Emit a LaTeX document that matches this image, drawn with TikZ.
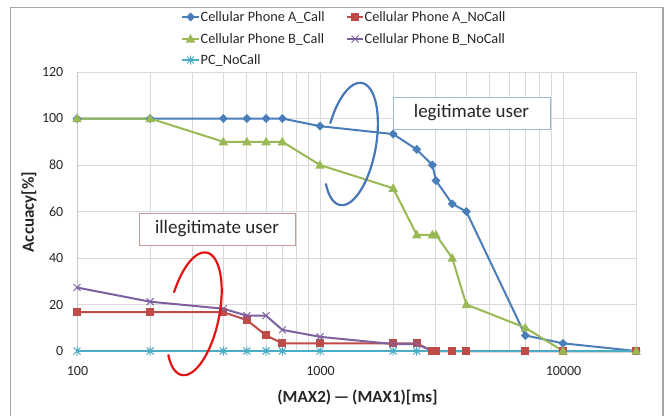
\documentclass[tikz,border=0pt]{standalone}
\usepackage{fontspec}
\setmainfont{Carlito}
\definecolor{sA}{HTML}{4A7EBB}
\definecolor{sR}{HTML}{BE4B48}
\definecolor{sG}{HTML}{98B954}
\definecolor{sP}{HTML}{7D60A0}
\definecolor{sC}{HTML}{4BACC6}
\definecolor{gridc}{HTML}{D9D9D9}
\definecolor{axisc}{HTML}{C8C8C8}
\definecolor{framec}{HTML}{A6A6A6}
\definecolor{txt}{HTML}{262626}
\definecolor{ellB}{HTML}{4777B8}
\definecolor{ellR}{HTML}{E01414}
\definecolor{boxB}{HTML}{9DB9D5}
\definecolor{boxR}{HTML}{C99A9A}
\tikzset{
  serline/.style={line width=2pt, line join=round},
  ticklab/.style={font=\fontsize{14}{16}\selectfont, text=txt, inner sep=0pt},
  legtext/.style={font=\fontsize{14.3}{16}\selectfont, text=txt, inner sep=0pt, anchor=west},
  annobox/.style={fill=white, line width=0.9pt, minimum height=32pt, inner sep=0pt, font=\fontsize{19}{22}\selectfont, text=txt},
  axtitle/.style={font=\bfseries\fontsize{17}{20}\selectfont, text=txt, inner sep=0pt},
  ellipsearc/.style={line width=2.2pt, line cap=round},
}
\newcommand\mkA[1]{\fill[sA] #1 +(-4.5pt,0) -- +(0,4.5pt) -- +(4.5pt,0) -- +(0,-4.5pt) -- cycle;}
\newcommand\mkR[1]{\fill[sR] #1 +(-4pt,-4pt) rectangle +(4pt,4pt);}
\newcommand\mkG[1]{\fill[sG] #1 +(0,5pt) -- +(-4.7pt,-3.5pt) -- +(4.7pt,-3.5pt) -- cycle;}
\newcommand\mkP[1]{\draw[sP, line width=1pt] #1 +(-3.5pt,-3.5pt) -- +(3.5pt,3.5pt) #1 +(-3.5pt,3.5pt) -- +(3.5pt,-3.5pt);}
\newcommand\mkC[1]{\draw[sC, line width=1pt] #1 +(-3.5pt,-3.5pt) -- +(3.5pt,3.5pt) #1 +(-3.5pt,3.5pt) -- +(3.5pt,-3.5pt) #1 +(0,-4.5pt) -- +(0,4.5pt);}
\begin{document}
\begin{tikzpicture}[x=1pt,y=-1pt]
\useasboundingbox (0,0) rectangle (668,415);
% outer chart frame
\draw[framec, line width=1.2pt] (10.5,430) -- (10.5,7.5) -- (663,7.5) -- (663,430);

% plot area in data coordinates: x in decades above 100, y in percent
\begin{scope}[shift={(77,351)}, x=243pt, y=2.325pt]
  \foreach \v in {20,40,...,120} \draw[gridc, line width=0.9pt] (0,\v) -- (2.30103,\v);
  \foreach \m in {2,...,9} {
    \draw[gridc, line width=0.9pt] ({log10(\m)},0) -- ({log10(\m)},120);
    \draw[gridc, line width=0.9pt] ({1+log10(\m)},0) -- ({1+log10(\m)},120);
  }
  \foreach \d in {1,2,2.30103} \draw[gridc, line width=0.9pt] (\d,0) -- (\d,120);
  \draw[axisc, line width=0.9pt] (0,120) -- (0,0) -- (2.30103,0);

  % series lines
  \draw[sA, serline] (0,100) -- (0.30103,100) -- (0.60206,100) -- (0.69897,100) -- (0.77815,100) -- (0.84510,100)
     -- (1,96.7) -- (1.30103,93.3) -- (1.39794,86.7) -- (1.46240,80) -- (1.47712,73.3) -- (1.54407,63.3)
     -- (1.60206,60) -- (1.84510,6.7) -- (2,3.3) -- (2.30103,0);
  \draw[sR, serline] (0,16.7) -- (0.30103,16.7) -- (0.60206,16.7) -- (0.69897,13.3) -- (0.77815,6.7) -- (0.84510,3.3)
     -- (1,3.3) -- (1.30103,3.3) -- (1.39794,3.3) -- (1.46240,0) -- (1.47712,0) -- (1.54407,0)
     -- (1.60206,0) -- (1.84510,0) -- (2,0) -- (2.30103,0);
  \draw[sG, serline] (0,100) -- (0.30103,100) -- (0.60206,90) -- (0.69897,90) -- (0.77815,90) -- (0.84510,90)
     -- (1,80) -- (1.30103,70) -- (1.39794,50) -- (1.46240,50) -- (1.47712,50) -- (1.54407,40)
     -- (1.60206,20) -- (1.84510,10) -- (2,0) -- (2.30103,0);
  \draw[sP, serline] (0,27.3) -- (0.30103,21.2) -- (0.60206,18.2) -- (0.69897,15.2) -- (0.77815,15.2) -- (0.84510,9.1)
     -- (1,6.1) -- (1.30103,3.0) -- (1.39794,3.0) -- (1.46240,0) -- (1.47712,0) -- (1.54407,0)
     -- (1.60206,0) -- (1.84510,0) -- (2,0) -- (2.30103,0);
  \draw[sC, serline] (0,0) -- (2.30103,0);

  % markers
  \foreach \d/\v in {0/100,0.30103/100,0.60206/100,0.69897/100,0.77815/100,0.84510/100,1/96.7,1.30103/93.3,1.39794/86.7,1.46240/80,1.47712/73.3,1.54407/63.3,1.60206/60,1.84510/6.7,2/3.3,2.30103/0} {\mkA{(\d,\v)}}
  \foreach \d/\v in {0/16.7,0.30103/16.7,0.60206/16.7,0.69897/13.3,0.77815/6.7,0.84510/3.3,1/3.3,1.30103/3.3,1.39794/3.3,1.46240/0,1.47712/0,1.54407/0,1.60206/0,1.84510/0,2/0,2.30103/0} {\mkR{(\d,\v)}}
  \foreach \d/\v in {0/100,0.30103/100,0.60206/90,0.69897/90,0.77815/90,0.84510/90,1/80,1.30103/70,1.39794/50,1.46240/50,1.47712/50,1.54407/40,1.60206/20,1.84510/10,2/0,2.30103/0} {\mkG{(\d,\v)}}
  \foreach \d/\v in {0/27.3,0.30103/21.2,0.60206/18.2,0.69897/15.2,0.77815/15.2,0.84510/9.1,1/6.1,1.30103/3.0,1.39794/3.0} {\mkP{(\d,\v)}}
  \foreach \d in {0,0.30103,0.60206,0.69897,0.77815,0.84510,1,1.30103,1.39794} {\mkC{(\d,0)}}
\end{scope}

% tick labels
\foreach \v/\yy in {0/351,20/304.5,40/258,60/211.5,80/165,100/118.5,120/72}
  \node[ticklab, anchor=east] (ty\v) at (63.5,\yy) {\v};
\node[ticklab] (tx100) at (77.5,371) {100};
\node[ticklab] (tx1000) at (320.5,371) {1000};
\node[ticklab] (tx10000) at (563.5,371) {10000};

% axis titles
\node[axtitle, rotate=90] (ytitle) at (29,212) {Accuacy[\%]};
\node[axtitle] (xtitle) at (357.5,397) {(MAX2)\,—\,(MAX1)[ms]};

% legend
\draw[sA, line width=2pt] (182,17) -- (199,17); \mkA{(190.5,17)}
\node[legtext] (legA) at (200.5,17) {Cellular Phone A\_Call};
\draw[sR, line width=2pt] (347,17) -- (363,17); \mkR{(355,17)}
\node[legtext] (legR) at (364.5,17) {Cellular Phone A\_NoCall};
\draw[sG, line width=2pt] (182,39) -- (199,39); \mkG{(190.5,39)}
\node[legtext] (legG) at (200.5,39) {Cellular Phone B\_Call};
\draw[sP, line width=2pt] (347,39) -- (363,39); \mkP{(355,39)}
\node[legtext] (legP) at (364.5,39) {Cellular Phone B\_NoCall};
\draw[sC, line width=2pt] (182,60) -- (199,60); \mkC{(190.5,60)}
\node[legtext] (legC) at (200.5,60) {PC\_NoCall};

% annotation ellipses
\draw[ellB, ellipsearc] plot[domain=-74:225, samples=120, smooth, variable=\t]
  ({351+10.85*cos(\t)+24.6*sin(\t)}, {144-61*cos(\t)+4.375*sin(\t)});
\draw[ellR, ellipsearc] plot[domain=-74:223, samples=120, smooth, variable=\t]
  ({194.2+12.48*cos(\t)+24.5*sin(\t)}, {313.8-61.15*cos(\t)+5*sin(\t)});

% annotation boxes
\node[annobox, draw=boxB, minimum width=157pt] (legit) at (471.5,113) {legitimate user};
\node[annobox, draw=boxR, minimum width=156pt] (illegit) at (217,229) {illegitimate user};
\end{tikzpicture}
\end{document}
